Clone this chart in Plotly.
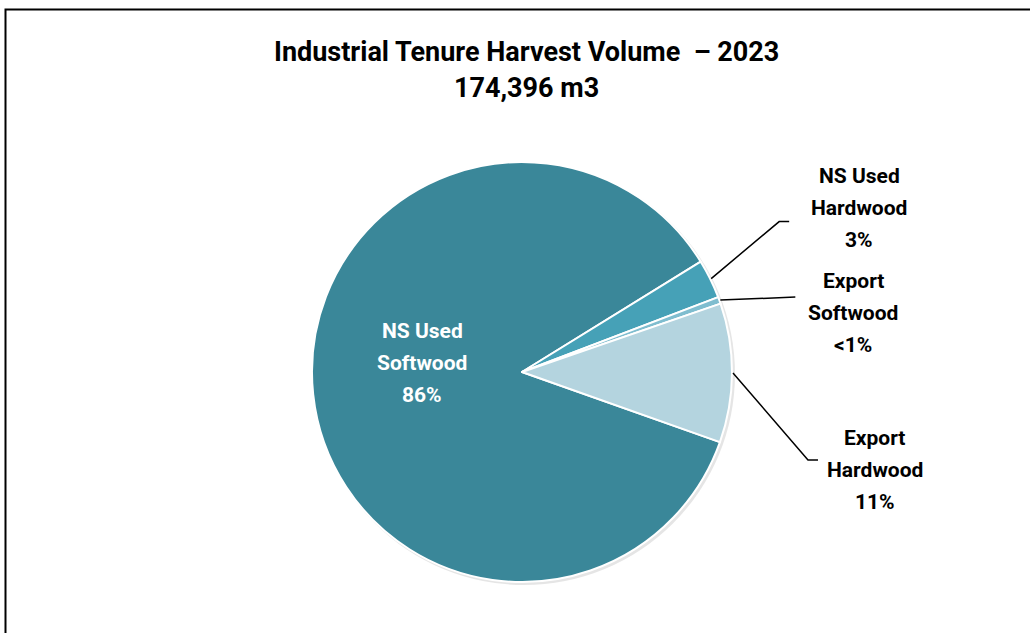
import math
import plotly.graph_objects as go

# Harvest volume by destination and species group (m3)
categories = ["NS Used Softwood", "NS Used Hardwood", "Export Softwood", "Export Hardwood"]
volumes = [149600, 5230, 920, 18646]
colors = ["#3a8799", "#46a1b7", "#7fbdcf", "#b4d4df"]
title_lines = ["Industrial Tenure Harvest Volume  \u2013 2023", "174,396 m3"]

W, H = 1030, 633
CX, CY, R = 522, 372, 210          # pie centre and radius in pixels
ROTATION = 109.5                   # start angle, degrees clockwise from 12 o'clock
FONT = "Roboto"


def px(x):
    return x / W


def py(y):
    return 1 - y / H


def pct_text(v, total):
    p = v / total * 100
    return "<1%" if p < 1 else f"{round(p)}%"


def edge_point(angle_deg, radius):
    a = math.radians(angle_deg)
    return CX + radius * math.sin(a), CY - radius * math.cos(a)


total = sum(volumes)
mid_angles = []
cum = 0
for v in volumes:
    mid_angles.append(ROTATION + 360 * (cum + v / 2) / total)
    cum += v

fig = go.Figure()

# soft drop shadow behind the pie, offset down and to the right
SR, SOX, SOY = R + 1, 2, 2
fig.add_trace(go.Pie(
    values=[1], marker=dict(colors=["rgba(0,0,0,0.10)"], line=dict(width=0)),
    textinfo="none", hoverinfo="skip", showlegend=False, sort=False,
    domain=dict(x=[px(CX + SOX - SR), px(CX + SOX + SR)],
                y=[py(CY + SOY + SR), py(CY + SOY - SR)]),
))

fig.add_trace(go.Pie(
    labels=categories, values=volumes, sort=False, direction="clockwise",
    rotation=ROTATION,
    marker=dict(colors=colors, line=dict(color="white", width=2)),
    textinfo="none", hoverinfo="label+value+percent", showlegend=False,
    domain=dict(x=[px(CX - R), px(CX + R)], y=[py(CY + R), py(CY - R)]),
))

annotations = []
shapes = []

# title, one annotation per line
for i, line in enumerate(title_lines):
    annotations.append(dict(
        x=px(526), y=py(52 + 36 * i), xref="paper", yref="paper",
        text=f"<b>{line}</b>", showarrow=False, xanchor="center", yanchor="middle",
        font=dict(family=FONT, size=27, color="black"),
    ))


def add_label(lines, cx, cy0, color):
    for j, t in enumerate(lines):
        annotations.append(dict(
            x=px(cx), y=py(cy0 + 32 * j), xref="paper", yref="paper",
            text=f"<b>{t}</b>", showarrow=False, xanchor="center", yanchor="middle",
            font=dict(family=FONT, size=21, color=color),
        ))


# inside label for the dominant slice
add_label(["NS Used", "Softwood", pct_text(volumes[0], total)], 422, 331, "white")

# outside labels: elbow offset from the slice edge, tail length, label centre offset
callouts = {
    1: dict(elbow=(68, -57), tail=10, label=(148, -103)),
    2: dict(elbow=(75, -3), tail=0, label=(133, -19)),
    3: dict(elbow=(75, 87), tail=10, label=(142, 65)),
}
name_lines = {
    1: ["NS Used", "Hardwood"],
    2: ["Export", "Softwood"],
    3: ["Export", "Hardwood"],
}
for i, c in callouts.items():
    ax, ay = edge_point(mid_angles[i], R + 1)
    ex, ey = ax + c["elbow"][0], ay + c["elbow"][1]
    pts = [(ax, ay), (ex, ey), (ex + c["tail"], ey)]
    path = "M " + " L ".join(f"{px(x)},{py(y)}" for x, y in pts)
    shapes.append(dict(type="path", xref="paper", yref="paper", path=path,
                       line=dict(color="black", width=1.5)))
    add_label(name_lines[i] + [pct_text(volumes[i], total)],
              ax + c["label"][0], ay + c["label"][1], "black")

# chart frame
shapes.append(dict(type="rect", xref="paper", yref="paper",
                   x0=px(5.5), x1=px(W + 10), y0=py(H + 10), y1=py(9.5),
                   line=dict(color="black", width=2), fillcolor="rgba(0,0,0,0)"))

fig.update_layout(
    width=W, height=H, margin=dict(l=0, r=0, t=0, b=0),
    paper_bgcolor="white", plot_bgcolor="white",
    annotations=annotations, shapes=shapes,
)

fig.write_html("out.html")
